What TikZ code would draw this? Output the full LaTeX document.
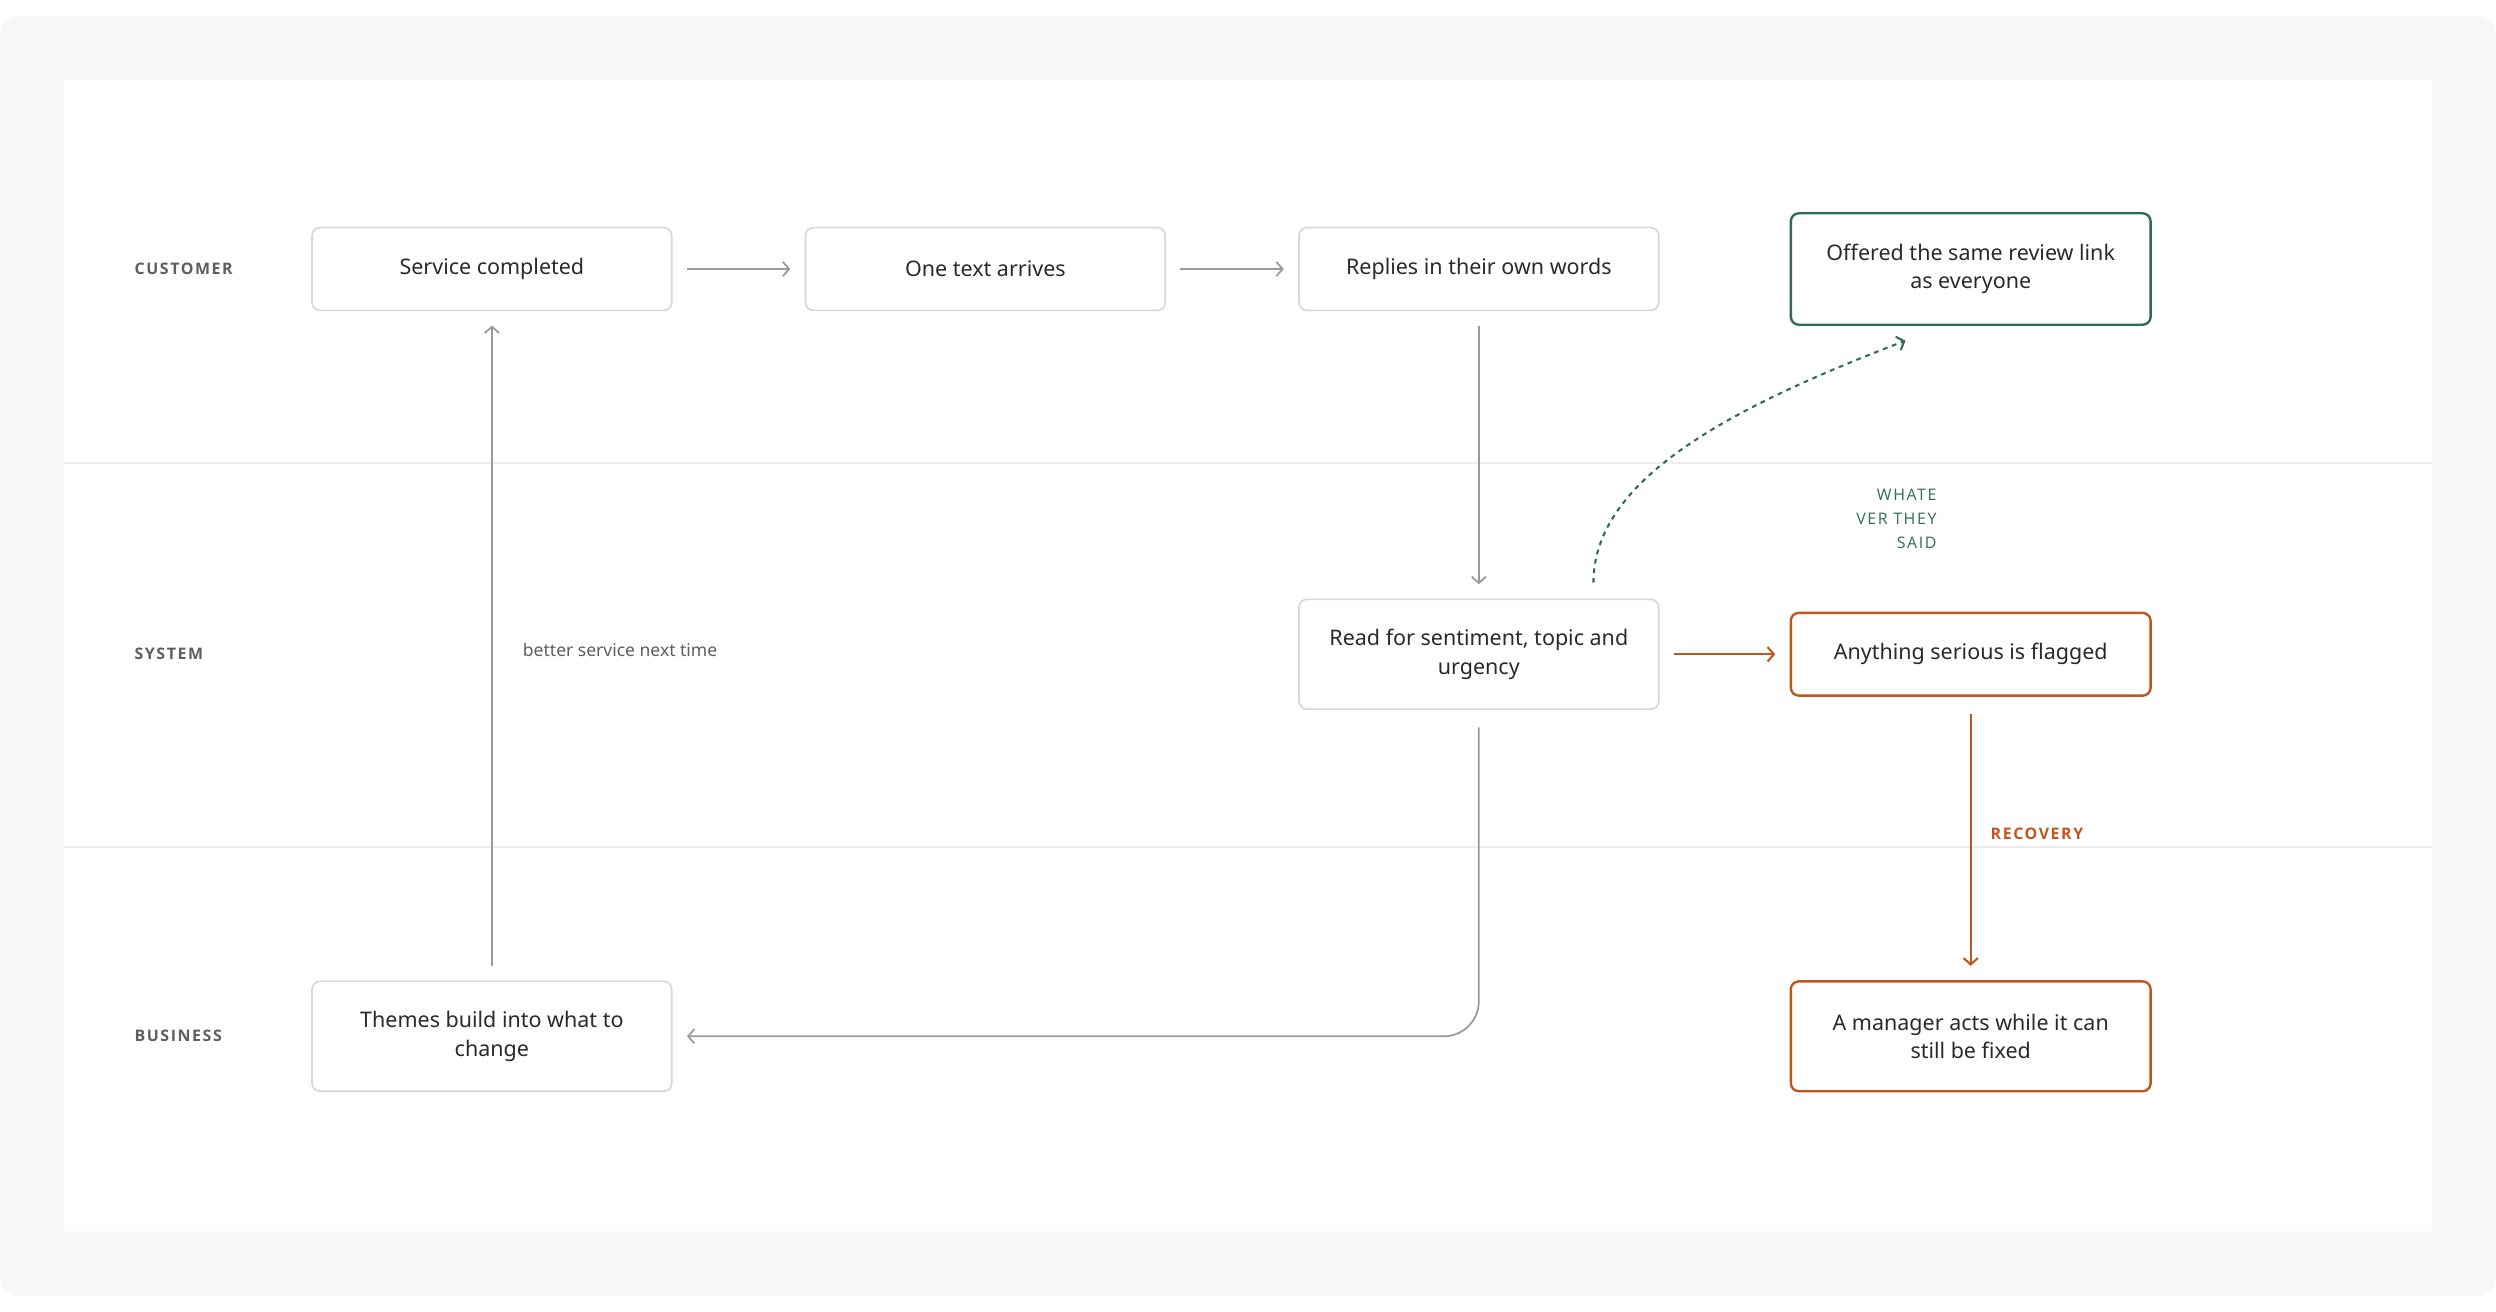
\documentclass[tikz,border=0pt]{standalone}
\usepackage{fontspec}
\setmainfont{Noto Sans}
\newfontfamily\labfont[LetterSpace=10]{Open Sans}
\usetikzlibrary{arrows.meta}
\definecolor{bg}{HTML}{F8F8F8}
\definecolor{lane}{HTML}{EDEDED}
\definecolor{bord}{HTML}{D6D6D6}
\definecolor{txt}{HTML}{2A2A2A}
\definecolor{lbl}{HTML}{5E5E5E}
\definecolor{arr}{HTML}{9A9A9A}
\definecolor{grn}{HTML}{2E6B5A}
\definecolor{org}{HTML}{C0561E}
\begin{document}
\begin{tikzpicture}[x=1pt,y=-1pt,
  box/.style={draw=bord,line width=1pt,rounded corners=5pt,fill=white,minimum width=226pt,align=center,font=\fontsize{13.5}{18}\selectfont,text=txt},
  lanelbl/.style={anchor=west,font=\labfont\bfseries\fontsize{10}{12}\selectfont,text=lbl},
  tip/.style={-{Straight Barb[length=4pt,width=9pt]}},
  flow/.style={draw=arr,line width=1.1pt,tip,shorten >=9pt,shorten <=9pt},
  oflow/.style={draw=org,line width=1.3pt,tip,shorten >=9pt,shorten <=9pt}]
\useasboundingbox (0,0) rectangle (1568,824);
\fill[white] (0,0) rectangle (1568,824);
\fill[bg,rounded corners=12pt] (0,10) rectangle (1568,814);
\fill[white] (40,50) rectangle (1528,773);
\draw[lane,line width=1pt] (40,291) -- (1528,291);
\draw[lane,line width=1pt] (40,532) -- (1528,532);
\node[lanelbl] (lc) at (81,169) {CUSTOMER};
\node[lanelbl] (ls) at (81,411) {SYSTEM};
\node[lanelbl] (lb) at (81,651) {BUSINESS};
\node[box,minimum height=52pt] (sc) at (309,169) {Service completed};
\node[box,minimum height=52pt] (ot) at (619,169) {One text arrives};
\node[box,minimum height=52pt] (rp) at (929,169) {Replies in their own words};
\node[box,minimum height=70pt,draw=grn,line width=1.5pt] (of) at (1238,169) {Offered the same review link\\as everyone};
\node[box,minimum height=69pt] (rd) at (929,411) {Read for sentiment, topic and\\urgency};
\node[box,minimum height=52pt,draw=org,line width=1.5pt] (an) at (1238,411) {Anything serious is flagged};
\node[box,minimum height=69pt] (th) at (309,651) {Themes build into what to\\change};
\node[box,minimum height=69pt,draw=org,line width=1.5pt] (mg) at (1238,651) {A manager acts while it can\\still be fixed};
\draw[flow] (sc) -- (ot);
\draw[flow] (ot) -- (rp);
\draw[flow] (rp.south) -- (rd.north);
\draw[flow,shorten <=11pt,rounded corners=22pt] (rd.south) |- (th.east);
\draw[flow] (th.north) -- (sc.south);
\node[anchor=west,font=\fontsize{11}{13}\selectfont,text=lbl] (bs) at (325,408) {better service next time};
\draw[oflow] (rd) -- (an);
\draw[oflow,shorten <=11pt] (an.south) -- (mg.north);
\node[anchor=west,font=\labfont\bfseries\fontsize{10}{12}\selectfont,text=org] (rc) at (1247,524) {RECOVERY};
\coordinate (ds) at (1001,366);
\coordinate (de) at (1197,214);
\draw[grn,line width=1.3pt,dashed,tip] (ds) .. controls (1001,300) and (1090,255) .. (de);
\node[anchor=east,align=right,font=\labfont\fontsize{10}{15}\selectfont,text=grn] (wt) at (1220,326) {WHATE\\VER THEY\\SAID};
\end{tikzpicture}
\end{document}
